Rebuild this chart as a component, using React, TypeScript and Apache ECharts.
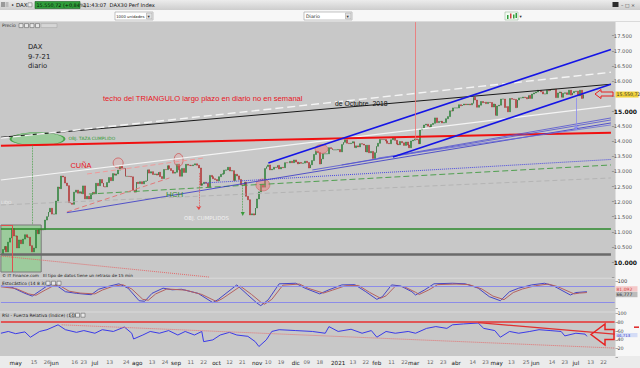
import React, { useEffect, useRef } from "react";
import * as echarts from "echarts";

// ---- daily closes (DAX) per month ----
const apr20 = [10249, 10415, 10514, 10336, 10659, 10796, 11108, 10862];
const may20 = [10862, 10467, 10730, 10607, 10759, 10904, 10825, 10820, 10542, 10337, 10465, 11058, 10939, 11075, 11065, 11074, 11391, 11504, 11657, 11781, 11587];
const jun20 = [11587, 12021, 12487, 12431, 12848, 12820, 12617, 12530, 11970, 11949, 11911, 12315, 12382, 12281, 12331, 12262, 12523, 12093, 12177, 12089, 12232, 12311];
const jul20 = [12260, 12608, 12528, 12734, 12617, 12494, 12489, 12634, 12800, 12697, 12931, 12874, 12920, 13046, 13171, 13104, 13103, 12838, 12838, 12836, 12823, 12379, 12313];
const aug20 = [12647, 12600, 12660, 12591, 12674, 12687, 13058, 12946, 12994, 12901, 12920, 12881, 12977, 12830, 12764, 13066, 13062, 13190, 13096, 13033, 12945];
const sep20 = [12974, 13243, 13057, 12842, 13100, 12968, 13237, 13209, 13202, 13193, 13218, 13255, 13208, 13116, 12542, 12594, 12643, 12606, 12469, 12871, 12826, 12761];
const oct20 = [12731, 12689, 12828, 12906, 12928, 13042, 13051, 13138, 13018, 13028, 12703, 12908, 12854, 12736, 12558, 12543, 12645, 12177, 12064, 11561, 11598, 11556];
const nov20 = [11789, 12089, 12324, 12568, 12480, 13096, 13163, 13216, 13053, 13077, 13139, 13133, 13202, 13086, 13137, 13127, 13292, 13290, 13286, 13336, 13291];
const dec20 = [13382, 13313, 13252, 13299, 13271, 13278, 13340, 13296, 13114, 13223, 13362, 13565, 13667, 13630, 13246, 13418, 13587, 13587, 13587, 13790, 13761, 13719, 13719];
const jan21 = [13719, 13727, 13651, 13892, 13968, 14050, 13937, 13925, 13940, 13989, 13788, 13849, 13815, 13922, 13907, 13874, 13644, 13871, 13621, 13666, 13433];
const feb21 = [13622, 13835, 13934, 14060, 14057, 14060, 14011, 13933, 13921, 14050, 14109, 14033, 13909, 13887, 13993, 13950, 13865, 13976, 13879, 13786];
const mar21 = [14012, 14039, 14080, 14056, 13920, 14380, 14437, 14540, 14569, 14502, 14461, 14557, 14596, 14776, 14621, 14657, 14662, 14610, 14621, 14749, 14818, 15009, 15008];
const apr21 = [15107, 15107, 15107, 15212, 15177, 15203, 15234, 15215, 15234, 15209, 15255, 15460, 15368, 15129, 15196, 15320, 15280, 15296, 15249, 15292, 15286, 15136];
const may21 = [15237, 14856, 15171, 15197, 15400, 15400, 15120, 15151, 14977, 15417, 15397, 15386, 15114, 15370, 15438, 15438, 15465, 15450, 15407, 15520, 15421];
const jun21 = [15568, 15603, 15633, 15693, 15677, 15640, 15571, 15571, 15693, 15673, 15729, 15711, 15728, 15448, 15603, 15636, 15456, 15589, 15608, 15554, 15691, 15531];
const jul21 = [15604, 15650, 15662, 15511, 15692, 15421, 15551];
const lastPrice = 15550.72;

// ---- x axis tick labels ----
const xTickDates = ["2020-05-01","2020-05-15","2020-05-26","2020-06-01","2020-06-16","2020-06-23","2020-07-01","2020-07-13","2020-07-24","2020-08-03","2020-08-13","2020-08-24","2020-09-01","2020-09-11","2020-09-22","2020-10-01","2020-10-12","2020-10-21","2020-11-02","2020-11-10","2020-11-19","2020-12-01","2020-12-09","2020-12-18","2021-01-01","2021-01-13","2021-01-22","2021-02-01","2021-02-11","2021-02-22","2021-03-01","2021-03-12","2021-03-23","2021-04-01","2021-04-14","2021-04-23","2021-05-03","2021-05-13","2021-05-25","2021-06-01","2021-06-14","2021-06-23","2021-07-01","2021-07-13","2021-07-22"];
const xTickLabels = ["may","15","26","jun","16","23","jul","13","24","ago","13","24","sep","11","22","oct","12","21","nov","10","19","dic","09","18","2021","13","22","feb","11","22","mar","12","23","abr","14","23","may","13","25","jun","14","23","jul","13","22"];
const monthWords = ["may","jun","jul","ago","sep","oct","nov","dic","2021","feb","mar","abr"];

// ---- oscillators: [dayIndex, value] ----
const stochK = [[0,81],[6,76],[13,54],[17,44],[22,67],[25,81],[29,89],[35,60],[41,54],[49,49],[53,69],[58,79],[64,89],[69,73],[75,27],[78,25],[82,54],[88,73],[93,67],[98,69],[107,54],[115,20],[118,32],[128,85],[134,48],[139,18],[141,9],[145,30],[151,89],[160,91],[165,73],[173,52],[178,67],[185,85],[192,86],[198,60],[204,32],[207,42],[212,85],[217,81],[223,60],[225,48],[230,67],[235,89],[245,91],[252,89],[259,73],[265,42],[271,27],[276,60],[281,73],[288,85],[295,91],[300,81],[309,48],[312,57],[318,60]];
const stochD = [[0,78],[8,72],[15,52],[19,47],[24,66],[28,80],[31,86],[37,62],[43,55],[51,52],[55,66],[60,78],[66,86],[71,70],[77,32],[80,29],[84,52],[90,70],[95,68],[100,66],[109,50],[117,24],[120,34],[130,80],[136,50],[141,22],[143,14],[147,32],[153,84],[162,88],[167,72],[175,55],[180,66],[187,82],[194,83],[200,58],[206,36],[209,45],[214,80],[219,78],[225,58],[227,50],[232,66],[237,86],[247,88],[254,86],[261,70],[267,44],[273,31],[278,57],[283,70],[290,82],[297,88],[302,79],[311,52],[314,55],[318,57]];
const rsi = [[0,55],[4,59],[8,54],[13,58],[16,46],[21,59],[25,63],[31,74],[35,63],[41,57],[45,61],[51,55],[55,63],[61,59],[67,69],[71,55],[72,42],[77,51],[81,59],[86,55],[91,61],[96,51],[100,59],[105,51],[109,59],[110,36],[115,40],[119,51],[124,57],[128,51],[134,48],[138,36],[140,25],[144,40],[147,59],[151,63],[160,61],[169,59],[176,55],[178,70],[183,59],[190,64],[196,55],[201,61],[204,46],[209,59],[214,55],[221,59],[225,55],[231,66],[236,70],[242,66],[245,74],[251,76],[259,78],[262,66],[268,61],[271,46],[276,59],[281,55],[287,59],[292,63],[298,61],[304,59],[306,49],[312,55],[317,53],[318,48]];

// ---- trend lines: [dayIndex, price] ----
const tlWhiteDash = [[0, 14104], [333, 16289]];
const tlBlack = [[0, 14134], [333, 15891]];
const tlRed = [[0, 13855], [333, 14286]];
const tlWhite = [[0, 12718], [333, 15171]];
const tlBlueUp = [[146, 13282], [333, 17044]];
const tlBlueLow = [[214, 13481], [333, 15891]];
const tlBlueThinA = [[36, 11634], [333, 14608]];
const tlBlueThinB = [[170, 13050], [333, 14707]];
const tlBlueThinC = [[186, 13216], [333, 14774]];
const tlBlueThinD = [[206, 13448], [333, 14542]];
const tlBlueDot = [[111, 12619], [333, 13398]];
const tlGreenDash = [[48, 12254], [333, 13216]];
const tlGrayDash = [[0, 11890], [333, 12785]];
const tlWedgeLow = [[36, 11657], [92, 12785]];
const tlWedgeUp = [[47, 12917], [111, 13448]];
const tlRedDotLow = [[0, 10199], [114, 9500]];
const hGreen = [[0, 11094], [333, 11094]];
const hGray = [[0, 10265], [333, 10265]];
const vRed = [[226, 17950], [226, 14044]];
const vRedArrow = [[108, 12950], [108, 11724]];
const vGreenArrow = [[132, 12553], [132, 11591]];
const vGreenDot = [[17, 13878], [17, 11227]];
const vBlueArrow = [[314, 15437], [314, 14376]];
const boxRedTop = [[0, 11227], [6, 11227]];
const boxRedSide = [[6, 11227], [6, 9669]];
const boxGreen = [[0, 11227], [22, 9669]];
const ellipseTaza = [20, 14077];
const circlesRed = [[64, 13282], [97, 13381]];
const ellipsesPink = [[143, 12553], [175, 13746]];
const rsiTop = [[0, 80], [333, 80]];
const rsiFall = [[259, 79], [333, 53]];
const rsiDot = [[33, 74], [333, 21.5]];

const FONT = "DejaVu Sans";
const ARIAL = "Liberation Sans";

function buildDays(): string[] {
  const out: string[] = [];
  const start = Date.UTC(2020, 3, 21);
  const end = Date.UTC(2021, 6, 30);
  for (let t = start; t <= end; t += 86400000) {
    const d = new Date(t);
    const wd = d.getUTCDay();
    if (wd !== 0 && wd !== 6) out.push(d.toISOString().slice(0, 10));
  }
  return out;
}

const seg = (pts: number[][], style: any, endSymbol = "none") => [
  { coord: pts[0], symbol: "none", lineStyle: style },
  { coord: pts[1], symbol: endSymbol },
];

const txt = (x: number, y: number, text: string, size: number, fill: string, extra: any = {}) => ({
  type: "text", x, y, z: 60, silent: true,
  style: { text, fontSize: size, fontFamily: FONT, fill, verticalAlign: "middle", ...extra },
});
const box = (x: number, y: number, w: number, h: number, fill: any, stroke?: string, z = 55) => ({
  type: "rect", z, silent: true,
  shape: { x, y, width: w, height: h },
  style: { fill, stroke: stroke || null, lineWidth: stroke ? 0.6 : 0 },
});

function buildOption() {
  const days = buildDays();
  const closes = [...apr20, ...may20, ...jun20, ...jul20, ...aug20, ...sep20, ...oct20, ...nov20, ...dec20, ...jan21, ...feb21, ...mar21, ...apr21, ...may21, ...jun21, ...jul21];
  const candles = closes.map((c, i) => {
    const o = i === 0 ? c : closes[i - 1];
    return [o, c, Math.min(o, c), Math.max(o, c)];
  });
  const labelMap = new Map<string, string>();
  xTickDates.forEach((d, i) => labelMap.set(d, xTickLabels[i]));

  const xAxes = [0, 1, 2].map((g) => ({
    type: "category", gridIndex: g, data: days, boundaryGap: true,
    axisLine: { show: false }, axisTick: { show: false }, splitLine: { show: false },
    axisLabel: g === 2 ? {
      interval: (_i: number, v: string) => labelMap.has(v),
      formatter: (v: string) => {
        const l = labelMap.get(v) || "";
        return monthWords.includes(l) ? `{m|${l}}` : `{n|${l}}`;
      },
      margin: 2,
      rich: {
        m: { fontSize: 5.6, color: "#111", fontFamily: FONT },
        n: { fontSize: 5.2, color: "#666", fontFamily: FONT },
      },
    } : { show: false },
  }));

  const tick = { show: true, length: 2.5, lineStyle: { color: "#777", width: 0.6 } };
  const yAxes = [
    {
      type: "value", gridIndex: 0, position: "right", min: 9500, max: 18000, interval: 500,
      splitLine: { show: false }, axisLine: { show: false }, axisTick: tick,
      axisLabel: {
        margin: 2, fontSize: 5.2, color: "#555", fontFamily: FONT,
        formatter: (v: number) => {
          if (v === 9500 || v === 18000 || v === 15500) return "";
          const s = (v / 1000).toFixed(3);
          return v % 5000 === 0 ? `{b|${s}}` : s;
        },
        rich: { b: { fontSize: 6, fontWeight: "bold", color: "#111", fontFamily: FONT } },
      },
    },
    {
      type: "value", gridIndex: 1, position: "right", min: 0, max: 100, interval: 100,
      splitLine: { show: false }, axisLine: { show: false }, axisTick: tick,
      axisLabel: { margin: 2, fontSize: 5.2, color: "#333", fontFamily: FONT, formatter: (v: number) => (v === 100 ? "100" : "") },
    },
    {
      type: "value", gridIndex: 2, position: "right", min: 0, max: 100, interval: 20,
      splitLine: { show: false }, axisLine: { show: false }, axisTick: tick,
      axisLabel: { margin: 2, fontSize: 4.8, color: "#444", fontFamily: FONT, formatter: (v: number) => (v === 0 ? "" : String(v)) },
    },
  ];

  const priceMarks = [
    seg(hGray, { color: "#6a6a6a", width: 2.5, type: "solid" }),
    seg(hGreen, { color: "#2c8a2c", width: 1.6, type: "solid" }),
    seg(tlRedDotLow, { color: "#e36a6a", width: 1, type: "dotted" }),
    seg(tlGrayDash, { color: "#b4b4b4", width: 1, type: [5, 3] }),
    seg(tlGreenDash, { color: "#4f9f4f", width: 1, type: [6, 3] }),
    seg(tlBlueDot, { color: "#4848e0", width: 1, type: "dotted" }),
    seg(tlWedgeLow, { color: "#e07a7a", width: 1, type: [5, 3] }),
    seg(tlWedgeUp, { color: "#f09a9a", width: 1, type: [5, 3] }),
    seg(tlWhite, { color: "#f4f4f4", width: 1.2, type: "solid" }),
    seg(tlRed, { color: "#f01010", width: 2, type: "solid" }),
    seg(tlBlack, { color: "#1a1a1a", width: 1, type: "solid" }),
    seg(tlWhiteDash, { color: "#f4f4f4", width: 1.4, type: [8, 4] }),
    seg(tlBlueThinA, { color: "#3434c8", width: 0.8, type: "solid" }),
    seg(tlBlueThinB, { color: "#5050d0", width: 0.8, type: "solid" }),
    seg(tlBlueThinC, { color: "#5050d0", width: 0.8, type: "solid" }),
    seg(tlBlueThinD, { color: "#6a6ad8", width: 0.8, type: "solid" }),
    seg(tlBlueUp, { color: "#1414e6", width: 1.6, type: "solid" }),
    seg(tlBlueLow, { color: "#1414e6", width: 1.6, type: "solid" }),
    seg(vRed, { color: "#f07070", width: 0.8, type: "solid" }),
    seg(vRedArrow, { color: "#e04848", width: 0.8, type: "dotted" }, "arrow"),
    seg(vGreenArrow, { color: "#3a9a3a", width: 0.8, type: "dotted" }, "triangle"),
    seg(vGreenDot, { color: "#3a9a3a", width: 0.8, type: "dotted" }),
    seg(vBlueArrow, { color: "#8a8af0", width: 0.8, type: "solid" }, "arrow"),
    seg(boxRedTop, { color: "#e05050", width: 1, type: "solid" }),
    seg(boxRedSide, { color: "#e05050", width: 1, type: "solid" }),
  ];

  const markCommon = {
    silent: true, symbol: ["none", "none"], symbolSize: 4, label: { show: false },
    emphasis: { disabled: true }, animation: false,
  };

  const series: any[] = [
    {
      type: "candlestick", xAxisIndex: 0, yAxisIndex: 0, data: candles, barWidth: 1.4, z: 3,
      itemStyle: { color: "#3aa84a", color0: "#e04646", borderColor: "#1e6a28", borderColor0: "#9a2020", borderWidth: 0.5 },
      markLine: { ...markCommon, data: priceMarks },
      markArea: {
        silent: true, label: { show: false },
        itemStyle: { color: "rgba(120,205,120,0.55)", borderColor: "#7a7a7a", borderWidth: 1 },
        data: [[{ coord: boxGreen[0] }, { coord: boxGreen[1] }]],
      },
    },
    {
      type: "scatter", xAxisIndex: 0, yAxisIndex: 0, z: 4, silent: true,
      data: [ellipseTaza], symbol: "circle", symbolSize: [54, 13],
      itemStyle: { color: "rgba(120,205,120,0.7)", borderColor: "#2e9a2e", borderWidth: 1 },
    },
    {
      type: "scatter", xAxisIndex: 0, yAxisIndex: 0, z: 4, silent: true,
      data: circlesRed, symbol: "circle", symbolSize: (_v: any, p: any) => (p.dataIndex === 0 ? [10, 10] : [9, 13]),
      itemStyle: { color: "rgba(240,160,160,0.35)", borderColor: "#d04040", borderWidth: 0.8 },
    },
    {
      type: "scatter", xAxisIndex: 0, yAxisIndex: 0, z: 4, silent: true,
      data: ellipsesPink, symbol: "circle", symbolSize: (_v: any, p: any) => (p.dataIndex === 0 ? [14, 12] : [13, 9]),
      itemStyle: { color: "rgba(236,120,120,0.6)", borderColor: "#d05050", borderWidth: 0.6 },
    },
    {
      type: "line", xAxisIndex: 1, yAxisIndex: 1, data: stochK, showSymbol: false, symbol: "none",
      lineStyle: { color: "#4545c8", width: 1 }, z: 3,
      markLine: {
        ...markCommon,
        data: [
          [{ coord: [0, 80], symbol: "none", lineStyle: { color: "#8c8ce8", width: 1, type: "solid" } }, { coord: [333, 80], symbol: "none" }],
          [{ coord: [0, 20], symbol: "none", lineStyle: { color: "#8c8ce8", width: 1, type: "solid" } }, { coord: [333, 20], symbol: "none" }],
        ],
      },
    },
    {
      type: "line", xAxisIndex: 1, yAxisIndex: 1, data: stochD, showSymbol: false, symbol: "none",
      lineStyle: { color: "#b46060", width: 1 }, z: 4,
    },
    {
      type: "line", xAxisIndex: 2, yAxisIndex: 2, data: rsi, showSymbol: false, symbol: "none",
      lineStyle: { color: "#3a3ae8", width: 1 }, z: 3,
      markLine: {
        ...markCommon,
        data: [
          seg(rsiTop, { color: "#e83030", width: 1.5, type: "solid" }),
          seg(rsiFall, { color: "#e03030", width: 1.2, type: "solid" }),
          seg(rsiDot, { color: "#e47070", width: 1, type: "dotted" }),
        ],
      },
    },
  ];

  return {
    animation: false,
    backgroundColor: "#f7f7f7",
    grid: [
      { left: 0, right: 24.5, top: 20.6, height: 256.5 },
      { left: 0, right: 24.5, top: 280.8, height: 27.3 },
      { left: 0, right: 24.5, top: 313.3, height: 44.3 },
    ],
    xAxis: xAxes,
    yAxis: yAxes,
    series,
  };
}

function buildGraphics(priceY: number) {
  const grad = new echarts.graphic.LinearGradient(0, 0, 0, 1, [
    { offset: 0, color: "#ececec" },
    { offset: 1, color: "#cdcdcd" },
  ]);
  const icon = (x: number, y: number) => box(x, y, 4, 4, "#e8e8e8", "#666", 56);
  return [
    // backgrounds
    box(0, 22, 615.5, 334, "#c8c8c8", undefined, -10),
    box(0, 356, 640, 12, "#ebebeb", undefined, -10),
    box(0, 277.8, 615.5, 1, "#dadada", undefined, -9),
    box(0, 311.4, 615.5, 1, "#dadada", undefined, -9),
    // window bar
    box(0, 0, 640, 10, grad, undefined, 50),
    box(1, 2, 4, 5, "#9a9a9a", undefined, 51),
    box(5.5, 2, 3, 5, "#bdbdbd", undefined, 51),
    txt(11, 5, "• DAX", 5.4, "#111"),
    box(28, 2.8, 4, 4, "#eeeeee", "#777", 51),
    box(35, 1.5, 45, 7, "#2f9d3a", "#1d5e24", 51),
    txt(36.5, 5.1, "15.550,72 (+0,84%)", 4.9, "#061806"),
    txt(83, 5.1, "11:43:07  DAX30 Perf Index", 5.2, "#111"),
    box(612.5, 2, 6, 5, "#2a2a2a", undefined, 51),
    txt(621, 5, "– □ ×", 4.8, "#444"),
    // toolbar
    box(0, 10, 640, 12, "#f7f7f7", undefined, 50),
    box(0, 21.4, 640, 0.6, "#bdbdbd", undefined, 51),
    box(115, 12, 38, 8, "#ffffff", "#9a9a9a", 51),
    txt(116.2, 16.1, "1000 unidades", 3.8, "#222"),
    box(146.5, 13, 5.5, 6, "#e2e2e2", "#aaa", 52),
    txt(147.6, 16.2, "▾", 4.6, "#333"),
    box(304, 12, 48, 8, "#ffffff", "#9a9a9a", 51),
    txt(306, 16.1, "Diario", 4.7, "#222"),
    box(345.5, 13, 5.5, 6, "#e2e2e2", "#aaa", 52),
    txt(346.6, 16.2, "▾", 4.6, "#333"),
    box(505, 12, 13, 8, "#f2fbf2", "#9aba9a", 51),
    box(507, 15, 1.5, 4, "#2f9d3a", undefined, 52),
    box(510, 13.5, 1.5, 5, "#d04040", undefined, 52),
    box(513, 14.5, 1.5, 4, "#2f9d3a", undefined, 52),
    box(515.5, 13, 1.5, 5, "#2f9d3a", undefined, 52),
    txt(519.5, 16.2, "▾", 4.5, "#333"),
    // panel headers
    txt(2, 25.6, "Precio", 4.6, "#333"),
    icon(19, 23.6), icon(24.5, 23.6), icon(30, 23.6), icon(35.5, 23.6),
    box(41, 23.6, 16, 4, "#d6d6d6", "#aaa", 56),
    txt(2, 283.2, "Estocástico (14 8 3)", 4.4, "#222"),
    icon(46, 281.2), icon(51.5, 281.2), icon(57, 281.2),
    txt(2, 315.2, "RSI - Fuerza Relativa (Índice) (14)", 4.4, "#222"),
    icon(70, 313.2), icon(75.5, 313.2), icon(81, 313.2),
    txt(2, 275.3, "© IT Finance.com   El tipo de datos tiene un retraso de 15 min", 4.2, "#222"),
    // annotations
    txt(28, 47.3, "DAX", 6.8, "#222"),
    txt(28, 56.6, "9-7-21", 6.8, "#222"),
    txt(28, 65.7, "diario", 6.8, "#222"),
    txt(103, 98.3, "techo del TRIANGULO largo plazo en diario no en semanal", 7.6, "#e8141e", { fontFamily: ARIAL }),
    txt(335, 103.3, "de Octubre  2018", 6.8, "#111", { fontFamily: ARIAL }),
    txt(70.5, 165.6, "CUÑA", 7.4, "#e8141e", { fontFamily: ARIAL }),
    txt(166, 194.4, "HCH", 8, "#2f8f2f", { fontFamily: ARIAL }),
    txt(184, 217.6, "OBJ. CUMPLIDOS", 5.4, "#f0f0f0"),
    txt(68.5, 138.4, "OBJ. TAZA CUMPLIDO", 4.4, "#2e9a2e"),
    txt(1, 202.6, "LIDO", 4.4, "#ececec"),
    // arrows
    {
      type: "polygon", z: 60, silent: true,
      shape: { points: [[595, 94], [601, 89.5], [601, 92], [613, 92], [613, 96], [601, 96], [601, 98.5]] },
      style: { fill: "rgba(0,0,0,0)", stroke: "#e82020", lineWidth: 1 },
    },
    {
      type: "polygon", z: 60, silent: true,
      shape: { points: [[591, 334.5], [605, 324], [605, 329.5], [614, 329.5], [614, 339.5], [605, 339.5], [605, 345]] },
      style: { fill: "rgba(0,0,0,0)", stroke: "#e82020", lineWidth: 1.5 },
    },
    // right-side value boxes
    box(615.5, priceY - 3, 23, 6, "#f1d23a", undefined, 58),
    txt(616.5, priceY + 0.2, "15.550,72", 4.7, "#333"),
    box(615.5, 286.2, 22, 5.4, "#f4c8c8", undefined, 58),
    txt(616.5, 289, "81,092", 4.5, "#d04040"),
    box(615.5, 291.8, 22, 5.4, "#bcbcbc", undefined, 58),
    txt(616.5, 294.6, "66,777", 4.5, "#333"),
    box(615.5, 333, 22, 4.2, "#d4dcf6", undefined, 58),
    txt(616.5, 335.2, "46,713", 3.9, "#3838c8"),
    box(634, 326.4, 5, 1.6, "#e03030", undefined, 58),
  ];
}

export default function App() {
  const ref = useRef<HTMLDivElement>(null);
  useEffect(() => {
    document.body.style.margin = "0";
    const chart = echarts.init(ref.current!, undefined, { renderer: "svg" });
    chart.setOption(buildOption() as any);
    const py = chart.convertToPixel({ yAxisIndex: 0 }, lastPrice) as number;
    chart.setOption({ graphic: { elements: buildGraphics(py) } } as any);
    return () => chart.dispose();
  }, []);
  return <div ref={ref} style={{ position: "fixed", left: 0, top: 0, width: 640, height: 368 }} />;
}
